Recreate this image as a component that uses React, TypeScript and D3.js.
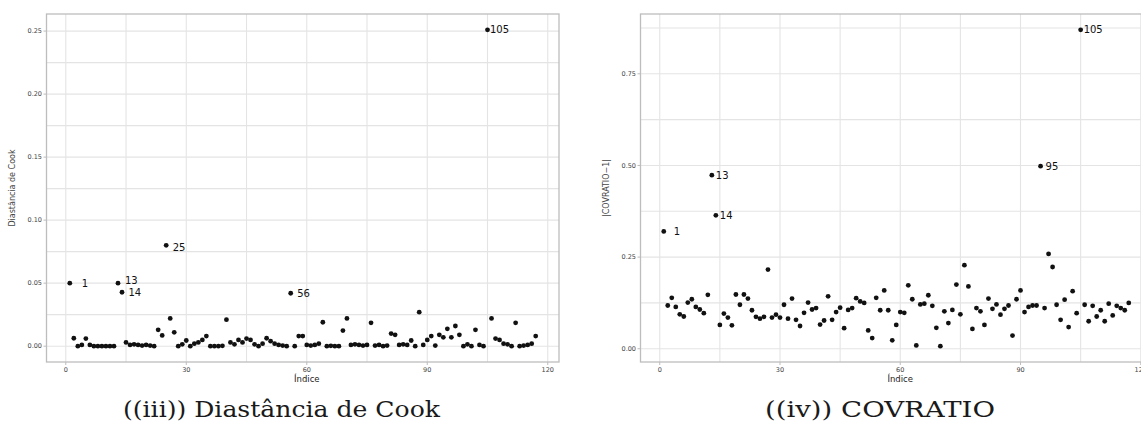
import React from 'react';
import * as d3 from 'd3';

// Distância de Cook por observação (índice 1..117)
const cookValues = [
  0.050, 0.0063, 0.0, 0.001, 0.006, 0.001, 0.0, 0.0, 0.0, 0.0,
  0.0, 0.0, 0.050, 0.0428, 0.003, 0.001, 0.0015, 0.001, 0.0005, 0.001,
  0.0005, 0.0, 0.013, 0.0085, 0.080, 0.022, 0.011, 0.0, 0.0015, 0.0045,
  0.0, 0.002, 0.003, 0.005, 0.008, 0.0, 0.0, 0.0, 0.0003, 0.021,
  0.003, 0.0015, 0.005, 0.003, 0.006, 0.005, 0.0015, 0.0, 0.002, 0.0063,
  0.004, 0.002, 0.001, 0.0005, 0.0, 0.042, 0.0, 0.008, 0.008, 0.001,
  0.0005, 0.001, 0.002, 0.019, 0.0, 0.0003, 0.0, 0.0, 0.0124, 0.022,
  0.001, 0.0015, 0.001, 0.0005, 0.001, 0.0185, 0.0005, 0.001, 0.0, 0.0005,
  0.010, 0.009, 0.001, 0.0015, 0.001, 0.0045, 0.0, 0.027, 0.001, 0.005,
  0.008, 0.0005, 0.009, 0.007, 0.0138, 0.007, 0.016, 0.009, 0.0, 0.0015,
  0.0, 0.013, 0.001, 0.0, 0.251, 0.022, 0.006, 0.005, 0.002, 0.0015,
  0.0, 0.0185, 0.0, 0.0005, 0.001, 0.002, 0.008,
];

// |COVRATIO - 1| por observação (índice 1..117)
const covValues = [
  0.320, 0.118, 0.139, 0.114, 0.094, 0.088, 0.126, 0.135, 0.114, 0.107,
  0.097, 0.147, 0.4735, 0.364, 0.065, 0.096, 0.085, 0.064, 0.148, 0.120,
  0.148, 0.137, 0.105, 0.087, 0.082, 0.087, 0.216, 0.085, 0.093, 0.085,
  0.120, 0.082, 0.137, 0.079, 0.062, 0.098, 0.126, 0.107, 0.111, 0.066,
  0.077, 0.143, 0.079, 0.100, 0.112, 0.056, 0.106, 0.111, 0.138, 0.129,
  0.125, 0.050, 0.029, 0.139, 0.105, 0.159, 0.105, 0.023, 0.065, 0.100,
  0.098, 0.173, 0.135, 0.009, 0.121, 0.123, 0.146, 0.117, 0.057, 0.007,
  0.102, 0.070, 0.106, 0.175, 0.094, 0.228, 0.170, 0.054, 0.111, 0.102,
  0.065, 0.137, 0.109, 0.121, 0.093, 0.109, 0.118, 0.036, 0.135, 0.159,
  0.100, 0.114, 0.118, 0.118, 0.498, 0.111, 0.259, 0.223, 0.120, 0.079,
  0.134, 0.059, 0.157, 0.097, 0.870, 0.120, 0.075, 0.117, 0.088, 0.105,
  0.075, 0.123, 0.091, 0.117, 0.111, 0.105, 0.125,
];

const cookLabels = [1, 13, 14, 25, 56, 105];
const covLabels = [1, 13, 14, 95, 105];

const xTicks = [0, 30, 60, 90, 120];
const cookTicks = [0, 0.05, 0.1, 0.15, 0.2, 0.25];
const covTicks = [0, 0.25, 0.5, 0.75];

// small per-label nudges (px) so the numbers sit like in the figure
const nudge = {
  cook: { 1: [12, 0], 13: [7, -2.5], 14: [6.5, 0], 25: [6.5, 1.7], 56: [6.5, 0], 105: [2.5, 0] },
  cov: { 1: [10, 0], 13: [4, 0], 14: [4, 0], 95: [5, 0], 105: [3, 0] },
};

const expand = (lo, hi) => {
  const pad = (hi - lo) * 0.05;
  return [lo - pad, hi + pad];
};

function Panel({ values, labels, yTicks, yTitle, left, right, top, bottom, nudges }) {
  const idx = values.map((_, i) => i + 1);
  const x = d3.scaleLinear().domain(expand(1, values.length)).range([left, right]);
  const y = d3.scaleLinear().domain(expand(d3.min(values), d3.max(values))).range([bottom, top]);
  const [x0, x1] = x.domain();
  const [y0, y1] = y.domain();

  const step = xTicks[1] - xTicks[0];
  const xMinor = d3.range(xTicks[0] - step / 2, x1, step).filter(v => v > x0 && v < x1);
  const yStep = yTicks[1] - yTicks[0];
  const yMinor = d3.range(yTicks[0] - yStep / 2, y1, yStep).filter(v => v > y0 && v < y1);
  const xMajor = xTicks.filter(v => v > x0 && v < x1);
  const yMajor = yTicks.filter(v => v > y0 && v < y1);

  const grid = '#e4e4e4';
  const tickFont = { fontFamily: 'DejaVu Sans', fontSize: 6.5, fill: '#444' };

  return (
    <g>
      <rect x={left} y={top} width={right - left} height={bottom - top} fill="white" />
      {yMinor.map(v => (
        <line key={'ym' + v} x1={left} x2={right} y1={y(v)} y2={y(v)} stroke={grid} strokeWidth={1.1} />
      ))}
      {xMinor.map(v => (
        <line key={'xm' + v} x1={x(v)} x2={x(v)} y1={top} y2={bottom} stroke={grid} strokeWidth={1.1} />
      ))}
      {yMajor.map(v => (
        <line key={'yM' + v} x1={left} x2={right} y1={y(v)} y2={y(v)} stroke={grid} strokeWidth={1.1} />
      ))}
      {xMajor.map(v => (
        <line key={'xM' + v} x1={x(v)} x2={x(v)} y1={top} y2={bottom} stroke={grid} strokeWidth={1.1} />
      ))}
      <rect x={left} y={top} width={right - left} height={bottom - top} fill="none" stroke="#bdbdbd" strokeWidth={1.3} />

      {yMajor.map(v => (
        <g key={'yt' + v}>
          <line x1={left - 3} x2={left} y1={y(v)} y2={y(v)} stroke="#bdbdbd" />
          <text x={left - 4.5} y={y(v)} dy="0.35em" textAnchor="end" {...tickFont}>
            {d3.format('.2f')(v)}
          </text>
        </g>
      ))}
      {xMajor.map(v => (
        <g key={'xt' + v}>
          <line x1={x(v)} x2={x(v)} y1={bottom} y2={bottom + 3} stroke="#bdbdbd" />
          <text x={x(v)} y={bottom + 9.5} textAnchor="middle" {...tickFont}>
            {v}
          </text>
        </g>
      ))}

      <text x={x(60)} y={bottom + 20} textAnchor="middle" fontFamily="DejaVu Sans" fontSize={8.5} fill="#222">
        Índice
      </text>
      <text
        transform={`translate(${left - 32},${(top + bottom) / 2}) rotate(-90)`}
        textAnchor="middle"
        fontFamily="DejaVu Sans"
        fontSize={8}
        fill="#444"
      >
        {yTitle}
      </text>

      {values.map((v, i) => (
        <circle key={'p' + i} cx={x(idx[i])} cy={y(v)} r={2.4} fill="#111" />
      ))}
      {labels.map(l => {
        const [dx, dy] = nudges[l] || [5, 0];
        return (
          <text
            key={'l' + l}
            x={x(l) + dx}
            y={y(values[l - 1]) + dy}
            dy="0.36em"
            fontFamily="DejaVu Sans"
            fontSize={10}
            fill="#111"
          >
            {l}
          </text>
        );
      })}
    </g>
  );
}

export default function App() {
  const W = 1141;
  const H = 432;
  return (
    <svg
      width={W}
      height={H}
      style={{ position: 'absolute', left: 0, top: 0, background: 'white' }}
    >
      <Panel
        values={cookValues}
        labels={cookLabels}
        yTicks={cookTicks}
        yTitle="Diastância de Cook"
        left={46.5}
        right={559}
        top={14}
        bottom={362}
        nudges={nudge.cook}
      />
      <Panel
        values={covValues}
        labels={covLabels}
        yTicks={covTicks}
        yTitle="|COVRATIO−1|"
        left={640.5}
        right={1152}
        top={14}
        bottom={362}
        nudges={nudge.cov}
      />
      <text
        x={123}
        y={417}
        textLength={317}
        lengthAdjust="spacingAndGlyphs"
        fontFamily="DejaVu Serif"
        fontSize={22}
        fill="#1a1a1a"
      >
        ((iii)) Diastância de Cook
      </text>
      <text
        x={765}
        y={417}
        textLength={230}
        lengthAdjust="spacingAndGlyphs"
        fontFamily="DejaVu Serif"
        fontSize={22}
        fill="#1a1a1a"
      >
        ((iv)) COVRATIO
      </text>
    </svg>
  );
}
